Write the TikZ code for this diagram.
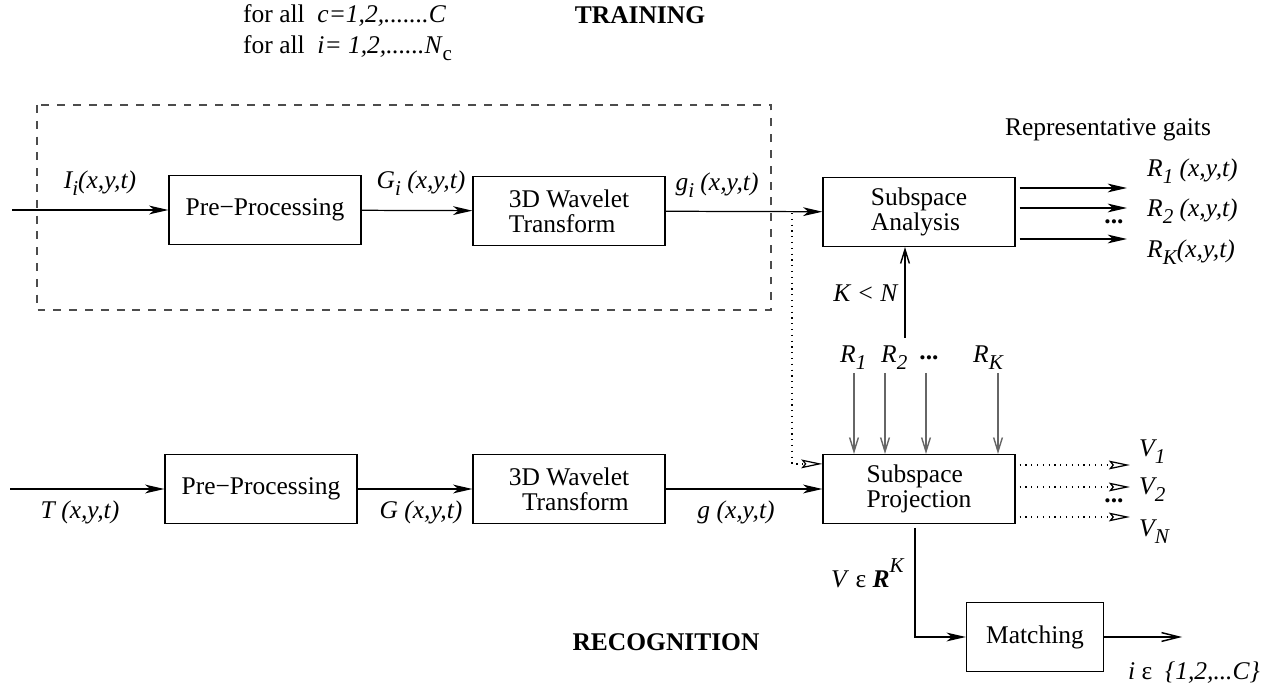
\documentclass[tikz,border=0pt]{standalone}
\usepackage{fontspec}
\setmainfont{Liberation Serif}
\usetikzlibrary{arrows.meta,positioning,calc}

\newcommand{\lowidx}[1]{\raisebox{-0.55ex}{\fontsize{12}{12}\selectfont #1}}
\newcommand{\highidx}[1]{\raisebox{1.3ex}{\fontsize{12}{12}\selectfont #1}}

\tikzset{
  block/.style={draw, line width=0.7pt, minimum width=3.84cm, minimum height=1.38cm, inner sep=2pt,
    font=\fontsize{14.5}{14}\selectfont},
  flow/.style={line width=0.7pt, -{Stealth[length=11pt,width=5pt,inset=3pt]}},
  feed/.style={line width=0.8pt, black!60, -{Straight Barb[length=8pt,width=5pt]}},
  dotline/.style={line width=0.7pt, dash pattern=on 0.7pt off 2.6pt},
  dottip/.style={-{Stealth[open,length=12pt,width=5pt,inset=2pt]}},
  dashbox/.style={line width=0.7pt, black!70, dash pattern=on 4.5pt off 4.5pt}
}

\begin{document}
\begin{tikzpicture}[x=0.02cm, y=-0.02cm, font=\fontsize{14.5}{12}\selectfont]
  \useasboundingbox (0,0) rectangle (1268,688);

  % headings
  \node[anchor=west] (forc) at (237,15) {for all \ \textit{c=1,2,.......C}};
  \node[anchor=west] (fori) at (237,48) {for all \ \textit{i= 1,2,......N}\lowidx{c}};
  \node[font=\fontsize{14.5}{12}\selectfont\bfseries] (train) at (640,15) {TRAINING};
  \node[font=\fontsize{14.5}{12}\selectfont\bfseries] (recog) at (666,642) {RECOGNITION};

  % training part
  \draw[dashbox] (37,105) rectangle (771,310);
  \coordinate (in1) at (12,210);
  \node[block] (pre1) at (265,210) {Pre\symbol{"2212}Processing};
  \node[block, align=left] (wav1) at (569,211) {3D Wavelet\\Transform};
  \node[block, align=left] (sa) at (919,212) {Subspace\\Analysis};

  \draw[flow] (in1) -- (pre1);
  \draw[flow] (pre1) -- (wav1);
  \draw[flow] (wav1) -- (sa);

  \node (lIi) at (100,183) {\textit{I\lowidx{i}(x,y,t)}};
  \node (lGi) at (421,183) {\textit{G\lowidx{i} (x,y,t)}};
  \node (lgi) at (717,185) {\textit{g\lowidx{i} (x,y,t)}};

  % representative gaits
  \node (rep) at (1108,130) {Representative gaits};
  \foreach \yy in {188,208,239}
    \draw[flow] ($(sa.east |- 0,\yy)+(4,0)$) -- (1127,\yy);
  \node[anchor=base west] (r1) at (1141,177) {\textit{R\lowidx{1} (x,y,t)}};
  \node[anchor=base west] (r2) at (1141,217) {\textit{R\lowidx{2} (x,y,t)}};
  \node[anchor=base west] (rk) at (1141,258) {\textit{R\lowidx{K}(x,y,t)}};
  \node[font=\fontsize{14.5}{12}\selectfont\bfseries] (rdots) at (1114,222) {...};

  % recognition part
  \coordinate (in2) at (10,489);
  \node[block] (pre2) at (261,489) {Pre\symbol{"2212}Processing};
  \node[block, align=center] (wav2) at (569,489) {3D Wavelet\\\ \ Transform};
  \node[block, align=left] (proj) at (919,489) {Subspace\\Projection};

  \draw[flow] (in2) -- (pre2);
  \draw[flow] (pre2) -- (wav2);
  \draw[flow] (wav2) -- (proj);

  \node (lT) at (80,512) {\textit{T (x,y,t)}};
  \node (lG) at (421,512) {\textit{G (x,y,t)}};
  \node (lg) at (736,512) {\textit{g (x,y,t)}};

  % training samples also go to the projection
  \coordinate (tap) at (792,213);
  \draw[dotline] (tap) |- ($(proj.north west)+(-24,10)$);
  \draw[dotline, dottip] ($(proj.north west)+(-26,10)$) -- ($(proj.north west)+(0,10)$);

  % K < N and the R_k
  \node (kn) at (866,293) {\textit{K < N}};
  \coordinate (kup) at (905,338);
  \draw[feed, black] (kup) -- (kup |- sa.south);
  \node[anchor=base west] (rr1) at (834,363) {\textit{R\lowidx{1}}};
  \node[anchor=base west] (rr2) at (875,363) {\textit{R\lowidx{2}}};
  \node[font=\fontsize{14.5}{12}\selectfont\bfseries] (rrdots) at (929,358) {...};
  \node[anchor=base west] (rrk) at (967,363) {\textit{R\lowidx{K}}};
  \foreach \xx in {854,885,926,998}
    \draw[feed] (\xx,373) -- (proj.north -| \xx,0);

  % projections
  \foreach \yy in {465,487,517}
    \draw[dotline, dottip] ($(proj.east |- 0,\yy)+(4,0)$) -- (1130,\yy);
  \node[anchor=base west] (v1) at (1133,457) {\textit{V\lowidx{1}}};
  \node[anchor=base west] (v2) at (1133,495) {\textit{V\lowidx{2}}};
  \node[anchor=base west] (vn) at (1133,537) {\textit{V\lowidx{N}}};
  \node[font=\fontsize{14.5}{12}\selectfont\bfseries] (vdots) at (1114,501) {...};

  % matching
  \node[block, minimum width=2.74cm] (match) at (1035,637) {Matching};
  \coordinate (vdown) at (915,528);
  \draw[flow] (vdown) |- (match.west);
  \node[anchor=base west] (vin) at (825,588) {\textit{V} ε \textbf{\textit{R}}\highidx{\textit{K}}};
  \coordinate (out) at (1182,637);
  \draw[feed, black, -{Straight Barb[length=10pt,width=5pt]}] (match) -- (out);
  \node[anchor=base west] (res) at (1122,680) {\textit{i} ε \ \textit{\{1,2,...C\}}};
\end{tikzpicture}
\end{document}
